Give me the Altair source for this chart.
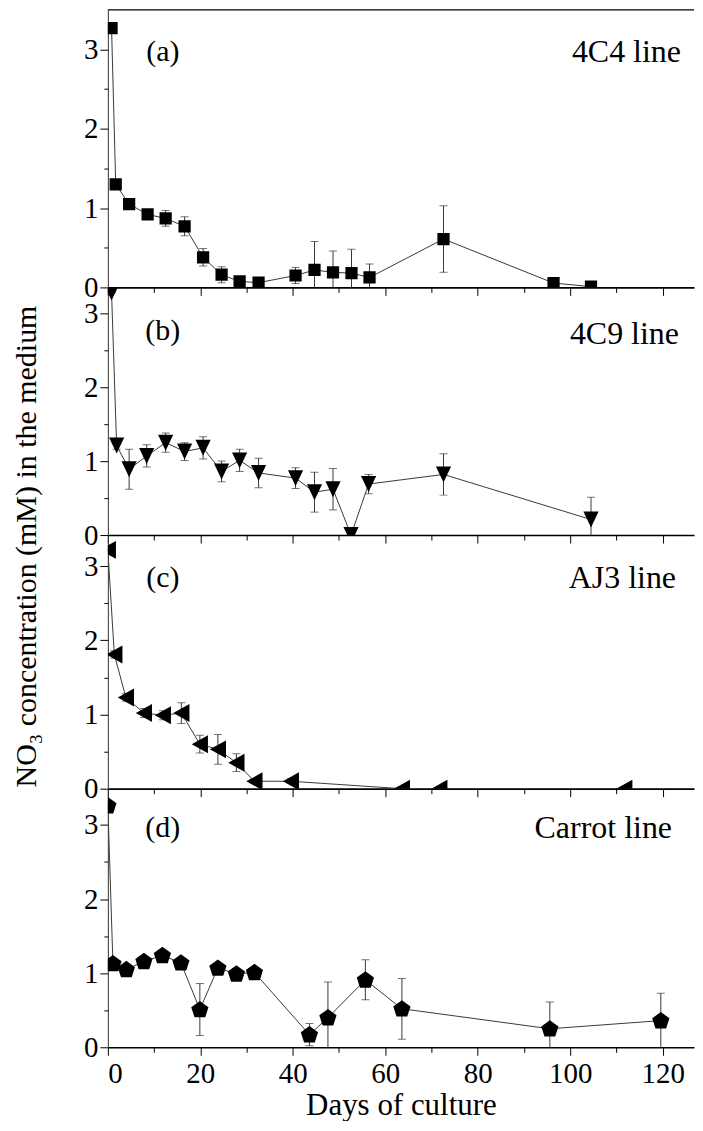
import altair as alt
import pandas as pd

# ---------------- data ----------------
a_day = [0.8, 1.7, 4.6, 8.6, 12.5, 16.6, 20.6, 24.6, 28.5, 32.6, 40.6, 44.7, 48.7, 52.7, 56.6, 72.6, 96.4, 104.5]
a_val = [3.27, 1.30, 1.05, 0.92, 0.87, 0.77, 0.38, 0.16, 0.075, 0.06, 0.15, 0.22, 0.19, 0.18, 0.125, 0.61, 0.055, 0.01]
a_err = [0.0, 0.03, 0.03, 0.04, 0.10, 0.12, 0.11, 0.10, 0.03, 0.03, 0.10, 0.36, 0.27, 0.30, 0.17, 0.42, 0.03, 0.02]

b_day = [0.8, 1.9, 4.6, 8.4, 12.5, 16.6, 20.6, 24.6, 28.5, 32.6, 40.6, 44.7, 48.7, 52.6, 56.4, 72.6, 104.5]
b_val = [3.28, 1.21, 0.89, 1.07, 1.25, 1.13, 1.18, 0.86, 1.01, 0.84, 0.77, 0.58, 0.62, 0.0, 0.69, 0.82, 0.21]
b_err = [0.0, 0.05, 0.27, 0.15, 0.13, 0.12, 0.15, 0.14, 0.15, 0.20, 0.14, 0.27, 0.28, 0.02, 0.13, 0.28, 0.30]

c_day = [0.0, 1.4, 3.9, 7.8, 11.9, 15.9, 19.9, 23.8, 27.8, 31.7, 39.6, 63.6, 71.7, 111.7]
c_val = [3.22, 1.81, 1.23, 1.02, 0.99, 1.02, 0.60, 0.53, 0.35, 0.10, 0.10, 0.0, 0.0, 0.0]
c_err = [0.0, 0.05, 0.05, 0.06, 0.06, 0.14, 0.12, 0.20, 0.12, 0.03, 0.03, 0.0, 0.0, 0.0]

d_day = [0.0, 1.1, 4.0, 7.8, 11.8, 15.8, 19.9, 23.8, 27.8, 31.7, 43.6, 47.6, 55.7, 63.6, 95.6, 119.6]
d_val = [3.26, 1.13, 1.05, 1.16, 1.24, 1.14, 0.51, 1.07, 0.99, 1.01, 0.17, 0.40, 0.91, 0.52, 0.25, 0.36]
d_err = [0.0, 0.03, 0.03, 0.03, 0.03, 0.03, 0.35, 0.03, 0.03, 0.03, 0.15, 0.48, 0.27, 0.41, 0.36, 0.37]

panel_letters = ["(a)", "(b)", "(c)", "(d)"]
panel_names = ["4C4 line", "4C9 line", "AJ3 line", "Carrot line"]
x_ticks = [0, 10, 20, 30, 40, 50, 60, 70, 80, 90, 100, 110, 120]
y_ticks = [0, 0.5, 1, 1.5, 2, 2.5, 3]
x_title = "Days of culture"
y_title = "NO\u2083 concentration (mM) in the medium"

# ---------------- styling ----------------
FONT = "Liberation Serif"
PX_PER_DAY = 4.63
W = 587
XMAX = W / PX_PER_DAY
SQUARE = "square"
TRI_DOWN = "M-0.95,-1L0.95,-1L0,1Z"
TRI_LEFT = "M-0.9,0L0.9,-1L0.9,1Z"
PENTAGON = "M0,-0.95L0.951,-0.259L0.588,0.859L-0.588,0.859L-0.951,-0.259Z"
LINE_COLOR = "#3a3a3a"


def panel(day, val, err, shape, size, ymax, height, letter, name,
          letter_y, name_x, name_y, bottom=False, title_y=None):
    df = pd.DataFrame({"day": day, "val": val, "err": err})
    df["lo"] = df["val"] - df["err"]
    df["hi"] = df["val"] + df["err"]

    x_axis_kw = dict(
        values=x_ticks,
        tickSize={"condition": {"test": "datum.value % 20 === 0", "value": 8}, "value": 5},
        domainWidth=1.6,
        domainColor="black",
        labels=bottom,
    )
    if bottom:
        x_axis_kw.update(labelExpr="datum.value % 20 === 0 ? format(datum.value, 'd') : ''",
                         labelPadding=4, titlePadding=2, titleFontSize=31)
    x_enc = alt.X("day:Q", scale=alt.Scale(domain=[0, XMAX], nice=False, zero=False),
                  axis=alt.Axis(**x_axis_kw),
                  title=x_title if bottom else None)

    def y_enc(field):
        y_axis_kw = dict(
            values=y_ticks,
            labelExpr="datum.value % 1 === 0 ? format(datum.value, 'd') : ''",
            tickSize={"condition": {"test": "datum.value % 1 === 0", "value": 8}, "value": 4},
            domainColor="#333333",
            domainWidth=1,
            labelPadding=2,
        )
        if title_y is not None:
            y_axis_kw.update(titleY=title_y, titlePadding=42, titleFontSize=30)
        return alt.Y(field, scale=alt.Scale(domain=[0, ymax], nice=False),
                     axis=alt.Axis(**y_axis_kw),
                     title=y_title if title_y is not None else None)

    base = alt.Chart(df)
    line = base.mark_line(color=LINE_COLOR, strokeWidth=1, clip=True).encode(x=x_enc, y=y_enc("val:Q"))
    bars = base.mark_rule(color=LINE_COLOR, strokeWidth=1, clip=True).encode(
        x=x_enc, y=y_enc("lo:Q"), y2="hi:Q")
    cap_hi = base.mark_tick(orient="horizontal", size=8, thickness=1, color=LINE_COLOR,
                            clip=True).encode(x=x_enc, y=y_enc("hi:Q"))
    cap_lo = base.mark_tick(orient="horizontal", size=8, thickness=1, color=LINE_COLOR,
                            clip=True).encode(x=x_enc, y=y_enc("lo:Q"))
    pts = base.mark_point(shape=shape, size=size, filled=True, color="black", opacity=1,
                          strokeWidth=0, clip=True).encode(x=x_enc, y=y_enc("val:Q"))

    one = alt.Data(values=[{}])
    t_letter = alt.Chart(one).mark_text(text=letter, font=FONT, fontSize=30, align="center",
                                        baseline="middle", color="black").encode(
        x=alt.value(55), y=alt.value(letter_y))
    t_name = alt.Chart(one).mark_text(text=name, font=FONT, fontSize=32, align="right",
                                      baseline="middle", color="black").encode(
        x=alt.value(name_x), y=alt.value(name_y))

    layers = [line, bars, cap_hi, cap_lo, pts, t_letter, t_name]
    return alt.layer(*layers).properties(width=W, height=height)


pa = panel(a_day, a_val, a_err, SQUARE, 150, 3.5, 278, panel_letters[0], panel_names[0], 42, 574, 42)
top_rule = alt.Chart(alt.Data(values=[{}])).mark_rule(color="black", strokeWidth=1.2).encode(
    x=alt.value(0), x2=alt.value(W), y=alt.value(0))
pa = alt.layer(pa, top_rule)
pb = panel(b_day, b_val, b_err, TRI_DOWN, 256, 3.35, 248, panel_letters[1], panel_names[1], 44, 572, 47)
pc = panel(c_day, c_val, c_err, TRI_LEFT, 324, 3.42, 254, panel_letters[2], panel_names[2], 43, 569, 43,
           title_y=11)
pd_ = panel(d_day, d_val, d_err, PENTAGON, 330, 3.49, 259, panel_letters[3], panel_names[3], 39, 565, 39,
            bottom=True)

chart = alt.vconcat(pa, pb, pc, pd_, spacing=0, bounds="flush").configure_view(
    stroke=None
).configure_axis(
    grid=False,
    labelFont=FONT, labelFontSize=29, labelColor="black",
    titleFont=FONT, titleFontSize=30, titleFontWeight="normal", titleColor="black",
    tickColor="black", tickWidth=1,
).properties(
    padding={"left": 3, "top": 0, "right": 0, "bottom": 0},
    background="white",
)

chart.save("out.html", embed_options={"renderer": "svg", "actions": False})
